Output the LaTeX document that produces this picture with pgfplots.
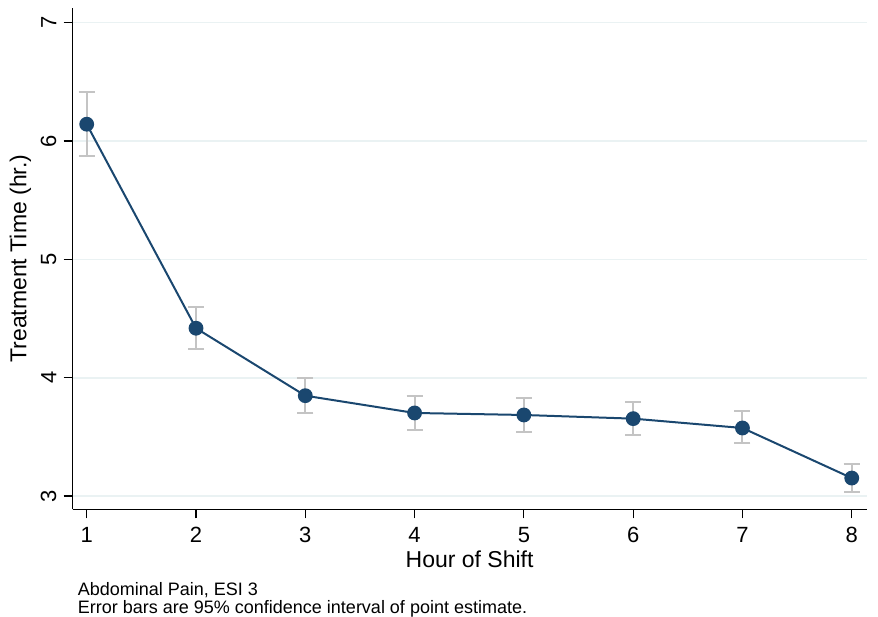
\documentclass[border=0pt]{standalone}
\usepackage{fontspec}
\setmainfont{Liberation Sans}
\usepackage{pgfplots}
\pgfplotsset{compat=1.18}
\definecolor{navy}{HTML}{1A476F}
\definecolor{errgray}{HTML}{C4C4C4}
\definecolor{gridc}{HTML}{EAF2F3}

\pgfplotstableread{
x y ep em
1 6.142 0.271 0.270
2 4.418 0.177 0.173
3 3.848 0.147 0.149
4 3.702 0.141 0.141
5 3.685 0.140 0.140
6 3.654 0.141 0.138
7 3.575 0.144 0.127
8 3.152 0.118 0.118
}\treat

\begin{document}
\begin{tikzpicture}
\begin{axis}[
name=ax,
scale only axis,
width=397.1pt, height=250.65pt,
xmin=0.87, xmax=8.137,
ymin=2.888, ymax=7.124,
axis x line*=bottom, axis y line*=left,
axis line style={-, line width=0.6pt},
xtick={1,...,8}, ytick={3,...,7},
tick align=outside,
major tick length=4.5pt,
tick style={black, line width=0.6pt},
ymajorgrids,
grid style={gridc, line width=0.8pt},
/pgf/number format/assume math mode=true,
tick label style={font=\fontsize{11}{13}\selectfont},
x tick label style={yshift=-1pt},
y tick label style={rotate=90, anchor=south},
xlabel={Hour of Shift},
ylabel={Treatment Time (hr.)},
label style={font=\fontsize{11.5}{13}\selectfont},
xlabel style={yshift=3pt},
ylabel style={yshift=-2pt},
clip=false,
]
\addplot[only marks, mark=none, forget plot,
  error bars/.cd, y dir=both, y explicit,
  error bar style={errgray, line width=1pt},
  error mark=|,
  error mark options={errgray, line width=1pt, mark size=4pt}]
  table[x=x, y=y, y error plus=ep, y error minus=em] {\treat};
\addplot[navy, line width=1pt, mark=*, mark size=3.2pt,
  mark options={fill=navy, draw=navy}]
  table[x=x, y=y] {\treat};
\end{axis}
\node[anchor=north west, inner sep=0pt, align=left,
  font=\fontsize{9}{9}\selectfont]
  at ([shift={(2.5pt,-36.2pt)}]ax.south west)
  {Abdominal Pain, ESI 3\\Error bars are 95\% confidence interval of point estimate.};
\pgfresetboundingbox
\path[use as bounding box] ([shift={(-36.25pt,-53.35pt)}]ax.south west)
  rectangle ([shift={(5.65pt,4pt)}]ax.north east);
\end{tikzpicture}
\end{document}
